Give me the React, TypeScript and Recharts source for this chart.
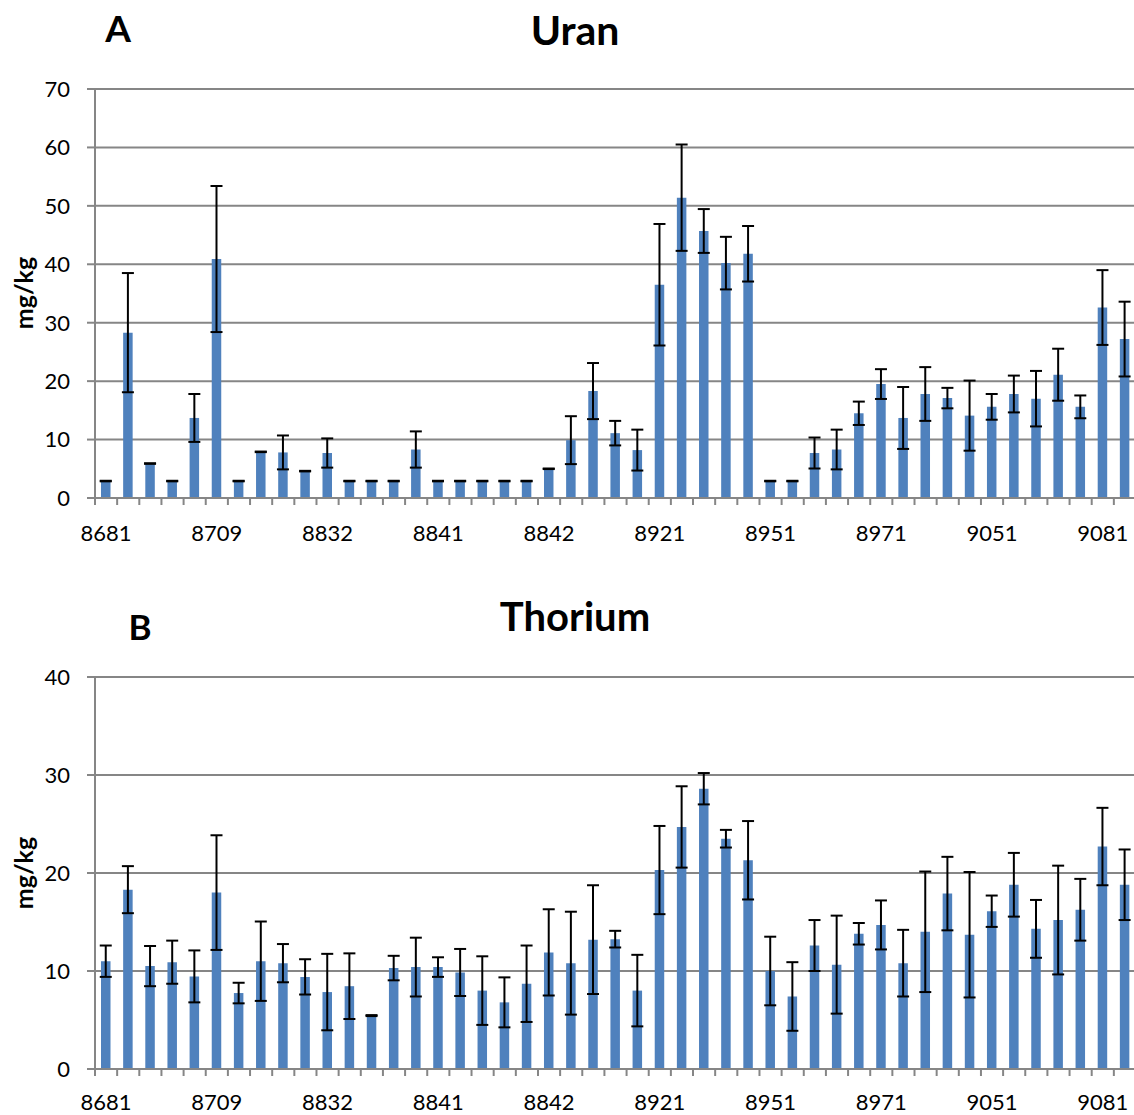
import React from 'react';
import { BarChart, Bar, XAxis, YAxis, CartesianGrid, ErrorBar } from 'recharts';

// sample labels shown under every fifth bar
const tickLabels = ['8681', '8709', '8832', '8841', '8842', '8921', '8951', '8971', '9051', '9081'];

// Uran, mg/kg (mean and +/- error)
const uranValues = [
  2.9, 28.3, 5.9, 2.9, 13.7, 40.9, 2.9, 7.9, 7.8, 4.6,
  7.7, 2.9, 2.9, 2.9, 8.3, 2.9, 2.9, 2.9, 2.9, 2.9,
  5.0, 9.9, 18.3, 11.1, 8.2, 36.5, 51.4, 45.7, 40.2, 41.8,
  2.9, 2.9, 7.7, 8.3, 14.5, 19.5, 13.7, 17.8, 17.1, 14.1,
  15.6, 17.8, 17.0, 21.1, 15.6, 32.6, 27.2,
];
const uranErr = [
  0.05, 10.2, 0.05, 0.05, 4.1, 12.5, 0.05, 0.05, 2.9, 0.05,
  2.5, 0.05, 0.05, 0.05, 3.1, 0.05, 0.05, 0.05, 0.05, 0.05,
  0.05, 4.1, 4.8, 2.1, 3.5, 10.4, 9.1, 3.75, 4.5, 4.75,
  0.05, 0.05, 2.65, 3.4, 2.0, 2.55, 5.3, 4.6, 1.75, 6.0,
  2.2, 3.15, 4.75, 4.45, 1.95, 6.4, 6.4,
];

// Thorium, mg/kg
const thoriumValues = [
  11.0, 18.3, 10.5, 10.9, 9.45, 18.0, 7.75, 11.0, 10.8, 9.4,
  7.85, 8.45, 5.45, 10.3, 10.4, 10.4, 9.85, 8.0, 6.8, 8.7,
  11.9, 10.8, 13.2, 13.25, 8.0, 20.3, 24.7, 28.6, 23.5, 21.3,
  10.0, 7.4, 12.6, 10.65, 13.8, 14.7, 10.8, 14.0, 17.9, 13.7,
  16.1, 18.8, 14.3, 15.2, 16.25, 22.7, 18.8,
];
const thoriumErr = [
  1.6, 2.4, 2.05, 2.2, 2.65, 5.85, 1.05, 4.05, 1.95, 1.8,
  3.9, 3.35, 0.05, 1.25, 3.0, 1.0, 2.4, 3.5, 2.55, 3.9,
  4.4, 5.25, 5.55, 0.85, 3.65, 4.5, 4.15, 1.6, 0.9, 4.0,
  3.5, 3.5, 2.6, 5.0, 1.1, 2.5, 3.4, 6.15, 3.75, 6.4,
  1.6, 3.25, 2.95, 5.55, 3.15, 3.95, 3.6,
];

const uranTicks = [0, 10, 20, 30, 40, 50, 60, 70];
const thoriumTicks = [0, 10, 20, 30, 40];

const BLUE = '#4F81BD';
const GRID = '#868686';
const FONT = 'Lato, "Open Sans", sans-serif';

const CHART_W = 1140;
const Y_W = 95;
const RIGHT = 4;
const N = uranValues.length;
const BAND = (CHART_W - Y_W - RIGHT) / N;

function makeXTick(labelOffset: number) {
  return function XTick(props: any) {
    const { x, y, payload } = props;
    const i = Number(payload.value);
    const half = BAND / 2;
    return (
      <g>
        <line x1={x - half} x2={x - half} y1={y} y2={y + 7} stroke={GRID} strokeWidth={2} />
        {i === N - 1 && (
          <line x1={x + half} x2={x + half} y1={y} y2={y + 7} stroke={GRID} strokeWidth={2} />
        )}
        {i % 5 === 0 && (
          <text x={x} y={y + labelOffset} textAnchor="middle" fontSize={22} fill="#000">
            {tickLabels[i / 5]}
          </text>
        )}
      </g>
    );
  };
}

interface PanelProps {
  values: number[];
  errors: number[];
  ticks: number[];
  height: number;
  top: number;
  axisHeight: number;
  labelOffset: number;
}

function Panel({ values, errors, ticks, height, top, axisHeight, labelOffset }: PanelProps) {
  const data = values.map((v, i) => ({ idx: i, value: v, err: errors[i] }));
  return (
    <BarChart
      width={CHART_W}
      height={height}
      data={data}
      margin={{ top, right: RIGHT, bottom: 0, left: 0 }}
    >
      <CartesianGrid vertical={false} stroke={GRID} strokeWidth={2} />
      <XAxis
        dataKey="idx"
        type="category"
        interval={0}
        height={axisHeight}
        tickSize={0}
        tickMargin={0}
        tickLine={false}
        axisLine={{ stroke: GRID, strokeWidth: 2 }}
        tick={makeXTick(labelOffset)}
      />
      <YAxis
        width={Y_W}
        domain={[0, ticks[ticks.length - 1]]}
        ticks={ticks}
        interval={0}
        tickSize={8}
        tickMargin={17}
        tickLine={{ stroke: GRID, strokeWidth: 2 }}
        axisLine={{ stroke: GRID, strokeWidth: 2 }}
        tick={{ fill: '#000', fontSize: 22 }}
      />
      <Bar dataKey="value" fill={BLUE} barSize={9.5} isAnimationActive={false}>
        <ErrorBar dataKey="err" width={6} stroke="#000" strokeWidth={2} isAnimationActive={false} />
      </Bar>
    </BarChart>
  );
}

const titleStyle: React.CSSProperties = {
  position: 'absolute',
  fontWeight: 700,
  color: '#000',
  lineHeight: 1,
  whiteSpace: 'nowrap',
  transform: 'translate(-50%, -50%)',
};

const yLabelStyle: React.CSSProperties = {
  position: 'absolute',
  fontWeight: 700,
  fontSize: 25,
  lineHeight: 1,
  whiteSpace: 'nowrap',
  transform: 'translate(-50%, -50%) rotate(-90deg)',
};

export default function App() {
  return (
    <div
      style={{
        position: 'absolute',
        left: 0,
        top: 0,
        width: 1134,
        height: 1115,
        overflow: 'hidden',
        background: '#fff',
        fontFamily: FONT,
      }}
    >
      <div style={{ position: 'absolute', left: 0, top: 0 }}>
        <Panel values={uranValues} errors={uranErr} ticks={uranTicks} height={560} top={89} axisHeight={62} labelOffset={43} />
      </div>
      <div style={{ position: 'absolute', left: 0, top: 560 }}>
        <Panel values={thoriumValues} errors={thoriumErr} ticks={thoriumTicks} height={555} top={117} axisHeight={46} labelOffset={41} />
      </div>

      <div style={{ ...titleStyle, left: 118, top: 27, fontSize: 37 }}>A</div>
      <div style={{ ...titleStyle, left: 575, top: 29, fontSize: 41 }}>Uran</div>
      <div style={{ ...titleStyle, left: 140, top: 626, fontSize: 35 }}>B</div>
      <div style={{ ...titleStyle, left: 575, top: 616, fontSize: 40 }}>Thorium</div>

      <div style={{ ...yLabelStyle, left: 23, top: 293 }}>mg/kg</div>
      <div style={{ ...yLabelStyle, left: 23, top: 873 }}>mg/kg</div>
    </div>
  );
}
